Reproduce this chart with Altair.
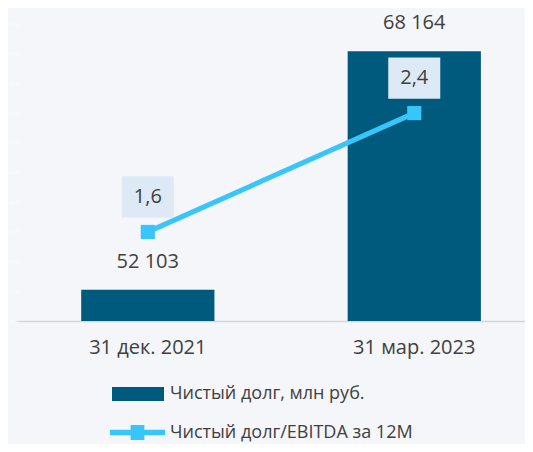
import altair as alt
import pandas as pd

dates = ["31 дек. 2021", "31 мар. 2023"]
debt = [52103, 68164]
debt_labels = ["52 103", "68 164"]
ratio = [1.6, 2.4]
ratio_labels = ["1,6", "2,4"]
bar_name = "Чистый долг, млн руб."
line_name = "Чистый долг/EBITDA за 12М"

BAR = "#005a7e"
LINE = "#38c6fa"
BOX = "#dde9f5"
TXT = "#404040"
FONT = "Open Sans"

df = pd.DataFrame({
    "date": dates, "debt": debt, "debt_label": debt_labels,
    "ratio": ratio, "ratio_label": ratio_labels,
    "bar_series": bar_name, "line_series": line_name,
})

x = alt.X("date:N", sort=dates, title=None,
          scale=alt.Scale(paddingInner=0.5, paddingOuter=0.207, align=0.6),
          axis=alt.Axis(labelAngle=0, ticks=False, domainColor="#d6d6d6", domainWidth=1.5,
                        labelFontSize=20, labelColor=TXT, labelFont=FONT, labelPadding=16))

ybar = alt.Y("debt:Q", title=None,
             scale=alt.Scale(domain=[50000, 70000], zero=False, nice=False),
             axis=alt.Axis(domain=False, ticks=False, grid=False, values=list(range(50000, 70001, 2000)),
                           labelColor="#ffffff", labelFontSize=3, labelFont=FONT,
                           labelAlign="left", labelPadding=6, format=",d"))

bar_symbol = "M-1,-0.27 H1 V0.27 H-1 Z"
line_symbol = ("M-1,-0.1 H-0.25 V-0.27 H0.25 V-0.1 H1 V0.1 H0.25 V0.27 "
               "H-0.25 V0.1 H-1 Z")

bars = alt.Chart(df).mark_bar(clip=True).encode(
    x=x, y=ybar,
    fill=alt.Fill("bar_series:N", scale=alt.Scale(domain=[bar_name], range=[BAR]),
                  legend=alt.Legend(title=None, orient="none", legendX=97, legendY=344,
                                    symbolType=bar_symbol, symbolSize=2704,
                                    symbolStrokeWidth=0, labelFontSize=18,
                                    labelColor=TXT, labelFont=FONT, labelOffset=6,
                                    labelLimit=0, padding=0)),
)

bar_text = alt.Chart(df).mark_text(dy=-28, fontSize=20, color=TXT, font=FONT,
                                   baseline="middle").encode(
    x=x, y=ybar, text="debt_label:N")

yline = alt.Y("ratio:Q", scale=alt.Scale(domain=[1.0, 3.0], nice=False, zero=False), axis=None)

line = alt.Chart(df).mark_line(strokeWidth=5).encode(
    x=x, y=yline,
    stroke=alt.Stroke("line_series:N", scale=alt.Scale(domain=[line_name], range=[LINE]),
                      legend=alt.Legend(title=None, orient="none", legendX=95, legendY=381,
                                        symbolType=line_symbol, symbolSize=3025,
                                        symbolStrokeWidth=0, symbolFillColor=LINE,
                                        labelFontSize=18, labelColor=TXT, labelFont=FONT,
                                        labelOffset=5, labelLimit=0, padding=0)),
)

pts = alt.Chart(df).mark_square(size=200, opacity=1, color=LINE, filled=True).encode(
    x=x, y=yline)

boxes = alt.Chart(df).mark_point(shape="M-1,-0.79 H1 V0.79 H-1 Z", size=2704, filled=True,
                                 opacity=1, color=BOX, yOffset=-35).encode(x=x, y=yline)

ratio_text = alt.Chart(df).mark_text(dy=-35, fontSize=20, color=TXT, font=FONT,
                                     baseline="middle").encode(
    x=x, y=yline, text="ratio_label:N")

chart = alt.layer(
    alt.layer(bars, bar_text),
    alt.layer(line, pts, boxes, ratio_text),
).resolve_scale(y="independent", color="independent").properties(
    width=510, height=297,
    autosize=alt.AutoSizeParams(type="none"),
    padding={"left": 7, "top": 16, "right": 0, "bottom": 123},
    background="#f5f6fa",
).configure_view(stroke=None)

chart.save("out.html", embed_options={"renderer": "svg", "actions": False})
